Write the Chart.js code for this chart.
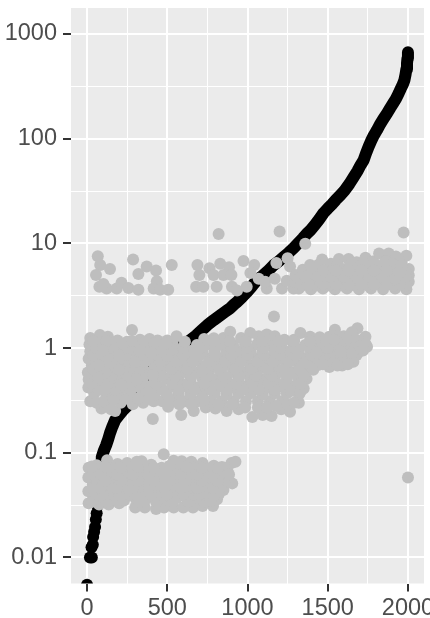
<!DOCTYPE html>
<html>
<head>
<meta charset="utf-8">
<script src="https://cdn.jsdelivr.net/npm/chart.js@4/dist/chart.umd.min.js"></script>
<style>
  html, body { margin: 0; padding: 0; background: #fff; }
  canvas { display: block; }
</style>
</head>
<body>
<canvas id="plot" width="430" height="618"></canvas>
<script>
// axis ticks
const xTicks = [0, 500, 1000, 1500, 2000];
const xMinor = [250, 750, 1250, 1750];
const yTicks = [0.01, 0.1, 1, 10, 100, 1000];
const yMinor = [0.0316, 0.316, 3.16, 31.6, 316];

// black curve, lower separate dots as [rank, value]
const curveDots = [
  [0,.0055],[18,.01],[30,.01],[28,.0125],[36,.0132],[38,.0157],[44,.0175],[50,.0195],[55,.023],[60,.0265],
  [65,.031],[70,.037],[76,.046],[82,.057],[87,.072]
];
// black curve, the solid part
const curveLine = [
  [87,.072],[92,.091],[105,.105],[119,.118],[132,.135],[143,.154],
  [158,.178],[175,.205],[198,.228],[225,.255],[256,.286],[285,.33],[315,.38],[345,.44],[375,.52],[405,.62],
  [436,.74],[475,.83],[518,.92],[560,1],[600,1.08],[642,1.19],[680,1.32],[715,1.48],[750,1.66],[790,1.85],
  [830,2.05],[865,2.25],[892,2.4],[915,2.6],[934,2.75],[965,3.05],[995,3.4],[1025,3.85],[1060,4.5],[1090,4.85],
  [1125,5.4],[1163,6.2],[1195,6.75],[1225,7.4],[1255,8.1],[1287,9],[1315,10],[1345,11.2],[1370,12.4],[1393,13.4],
  [1420,15],[1447,17],[1474,19.5],[1500,21.5],[1525,23.5],[1550,26],[1580,29],[1605,32],[1635,37],[1662,43],
  [1685,49],[1705,56],[1724,62.5],[1738,72],[1755,84],[1770,95],[1788,108],[1807,121],[1825,136],[1845,153],
  [1870,175],[1890,197],[1908,218],[1925,240],[1942,271],[1955,300],[1968,330],[1978,363],[1985,410],[1990,460],
  [1994,524],[1997,585],[2000,671]
];

// grey cloud, lowest band
const lowBand = [
  [10,.033],[75,.032],[135,.032],[200,.033],[300,.03],[360,.03],[430,.029],[480,.03],[540,.03],[600,.03],[660,.03],[720,.031],[785,.031],
  [40,.037],[105,.037],[170,.036],[235,.037],[300,.037],[365,.036],[430,.037],[495,.036],[560,.037],[625,.036],[690,.037],[755,.037],[810,.036],
  [8,.043],[70,.043],[135,.042],[200,.043],[265,.043],[330,.042],[395,.043],[460,.043],[525,.042],[590,.043],[655,.043],[720,.042],[785,.043],[850,.044],
  [35,.05],[100,.05],[165,.049],[230,.05],[295,.05],[360,.049],[425,.05],[490,.05],[555,.049],[620,.05],[685,.05],[750,.05],[815,.049],[880,.053],[905,.051],
  [8,.058],[65,.058],[130,.057],[195,.058],[260,.058],[325,.057],[390,.058],[455,.058],[520,.057],[585,.058],[650,.058],[715,.057],[780,.058],[845,.058],
  [30,.067],[95,.067],[160,.066],[225,.067],[290,.067],[355,.066],[420,.067],[485,.067],[550,.066],[615,.067],[680,.067],[745,.066],[810,.067],[875,.067],
  [10,.072],[60,.076],[125,.085],[190,.078],[250,.08],[310,.082],[340,.083],[400,.077],[478,.097],[540,.084],[590,.083],[650,.082],[720,.08],[790,.075],[840,.073],[900,.08],[925,.082],
  [30,.034],[130,.034],[230,.035],[330,.034],[430,.034],[530,.034],[630,.034],[730,.034],[770,.035],
  [60,.04],[160,.04],[260,.04],[360,.04],[460,.04],[560,.04],[660,.04],[760,.04],[820,.04],
  [35,.046],[135,.046],[235,.046],[335,.046],[435,.046],[535,.046],[635,.046],[735,.046],[835,.047],
  [65,.054],[165,.054],[265,.054],[365,.054],[465,.054],[565,.054],[665,.054],[765,.054],[865,.055],
  [35,.062],[135,.062],[235,.062],[335,.062],[435,.062],[535,.062],[635,.062],[735,.062],[835,.063],
  [65,.071],[165,.071],[265,.072],[365,.072],[465,.072],[565,.072],[665,.072],[765,.071],[855,.072],
  [100,.04],[200,.04],[300,.04],[400,.04],[500,.04],[600,.04],[700,.04],[790,.039],
  [85,.046],[185,.046],[285,.046],[385,.046],[485,.046],[585,.046],[685,.046],[785,.046],
  [115,.054],[215,.054],[315,.054],[415,.054],[515,.054],[615,.054],[715,.054],[815,.054],
  [85,.062],[185,.062],[285,.062],[385,.062],[485,.062],[585,.062],[685,.062],[785,.062],[885,.062],
  [30,.074],[110,.074],[210,.072],[315,.073],[415,.072],[515,.075],[615,.074],[715,.072],[815,.072]
];

// grey cloud, middle band
const midBand = [
  [90,.265],[175,.25],[505,.275],[587,.23],[665,.25],[740,.27],[800,.265],[870,.25],[945,.26],[1030,.22],[1095,.23],[1150,.225],[1210,.26],[1265,.247],
  [20,.31],[130,.29],[210,.3],[285,.29],[350,.3],[415,.31],[470,.31],[540,.31],[610,.31],[690,.31],[770,.31],[840,.31],[915,.31],[990,.31],[1065,.31],[1140,.31],[1215,.31],[1320,.3],
  [45,.37],[120,.36],[195,.37],[270,.36],[345,.37],[420,.36],[495,.37],[570,.37],[645,.36],[720,.37],[795,.37],[870,.36],[945,.37],[1020,.37],[1095,.36],[1170,.37],[1245,.37],[1320,.36],
  [8,.42],[85,.43],[160,.43],[235,.42],[310,.43],[385,.43],[460,.42],[535,.43],[610,.43],[685,.42],[760,.43],[835,.43],[910,.42],[985,.43],[1060,.43],[1135,.42],[1210,.43],[1285,.43],[1350,.41],
  [10,.5],[50,.51],[120,.5],[195,.5],[270,.51],[345,.5],[420,.5],[495,.51],[570,.5],[645,.5],[720,.51],[795,.5],[870,.5],[945,.51],[1020,.5],[1095,.5],[1170,.51],[1245,.5],[1320,.5],[1368,.51],
  [5,.585],[85,.58],[160,.59],[235,.58],[310,.59],[385,.58],[460,.59],[535,.58],[610,.59],[685,.58],[760,.59],[835,.58],[910,.59],[985,.58],[1060,.59],[1135,.58],[1210,.59],[1285,.58],[1360,.59],
  [30,.68],[120,.68],[195,.69],[270,.67],[345,.68],[420,.69],[495,.67],[570,.68],[645,.69],[720,.67],[795,.68],[870,.69],[945,.67],[1020,.68],[1095,.69],[1170,.67],[1245,.68],[1320,.69],[1395,.68],[1440,.69],
  [10,.79],[85,.8],[160,.79],[235,.8],[310,.79],[385,.8],[535,.79],[610,.8],[685,.79],[760,.8],[835,.79],[910,.8],[985,.79],[1060,.8],[1135,.79],[1210,.8],[1285,.79],[1360,.8],[1435,.79],[1510,.66],[1510,.8],[1590,.68],[1590,.8],[1660,.74],[1680,.86],
  [20,.93],[120,.92],[195,.93],[270,.94],[345,.92],[420,.93],[570,.92],[645,.94],[720,.93],[795,.92],[870,.94],[945,.93],[1020,.92],[1095,.94],[1170,.93],[1245,.92],[1320,.94],[1395,.93],[1470,.92],[1545,.94],[1620,.93],[1695,.92],[1745,1.03],
  [15,1.08],[85,1.08],[160,1.09],[235,1.07],[310,1.08],[385,1.09],[460,1.07],[535,1.08],[685,1.07],[760,1.08],[835,1.09],[910,1.07],[985,1.08],[1060,1.09],[1135,1.07],[1210,1.08],[1285,1.09],[1360,1.07],[1435,1.08],[1510,1.09],[1585,1.07],[1660,1.08],[1735,1.1],
  [20,1.25],[80,1.33],[130,1.28],[190,1.18],[250,1.15],[280,1.49],[330,1.2],[390,1.22],[440,1.18],[500,1.18],[558,1.3],[730,1.22],[790,1.24],[850,1.25],[892,1.43],[960,1.25],[1017,1.39],[1070,1.3],[1120,1.35],[1170,1.3],[1230,1.2],[1290,1.2],[1330,1.39],[1390,1.28],[1450,1.27],[1545,1.5],[1510,1.28],[1600,1.3],[1685,1.55],[1735,1.28],[1650,1.42],
  [1165,2],[410,.21],
  [60,.3],[105,.31],[150,.26],[165,.32],[250,.33],[320,.33],[385,.33],[510,.33],[575,.29],[650,.29],[730,.32],[820,.29],[905,.29],[985,.27],[1065,.27],[1120,.27],[1180,.28],[1250,.29],[1290,.3],
  [70,.4],[170,.4],[270,.4],[370,.4],[470,.4],[570,.4],[670,.4],[770,.4],[870,.4],[970,.4],[1070,.4],[1170,.4],[1270,.39],[1330,.38],
  [30,.46],[130,.46],[230,.46],[330,.46],[430,.46],[530,.46],[630,.46],[730,.46],[830,.46],[930,.46],[1030,.46],[1130,.46],[1230,.46],[1330,.46],
  [50,.54],[150,.54],[250,.54],[350,.54],[450,.54],[550,.54],[650,.54],[750,.54],[850,.54],[950,.54],[1050,.54],[1150,.54],[1250,.54],[1350,.55],
  [40,.63],[125,.63],[225,.63],[325,.63],[425,.63],[525,.63],[625,.63],[725,.63],[825,.63],[925,.63],[1025,.63],[1125,.63],[1225,.63],[1325,.63],[1410,.62],
  [60,.74],[160,.74],[260,.74],[360,.74],[460,.74],[560,.74],[660,.74],[760,.74],[860,.74],[960,.74],[1060,.74],[1160,.74],[1260,.74],[1360,.73],[1460,.73],[1550,.72],[1625,.74],
  [40,.86],[140,.86],[240,.86],[340,.86],[440,.86],[500,.84],[600,.86],[700,.86],[800,.86],[900,.86],[1000,.86],[1100,.86],[1200,.86],[1300,.86],[1400,.86],[1480,.82],[1550,.85],[1630,.85],
  [60,1],[160,1],[260,1],[360,1],[470,.97],[530,.97],[600,1.02],[700,1],[800,1],[900,1],[1000,1],[1100,1],[1200,1],[1300,1],[1400,1],[1500,1],[1600,1],[1700,1],
  [40,1.17],[120,1.17],[220,1.1],[280,1.17],[360,1.15],[420,1.12],[490,1.1],[610,1.15],[790,1.16],[890,1.16],[990,1.16],[1090,1.16],[1190,1.16],[1290,1.16],[1390,1.16],[1490,1.18],[1590,1.16],[1690,1.18],[1560,1.3],[1660,1.27],[1620,1.24],
  [1450,.8],[1530,.72],[1600,.78],[1560,1.1],[1650,.9],[1700,1.05],[1470,.7],[1560,.68],[1625,.7],[1430,.9],[1580,.92],[1540,1.2],[1720,.95],
  [110,.4],[210,.45],[310,.5],[410,.55],[115,.58],[200,.62],[300,.74],[400,.9],[120,.8],[200,.85],[330,.95],[100,.95],[75,.68],[70,.52]
];

// grey cloud, top band
const highBand = [
  [67,7.55],[82,6.2],[143,5.7],[56,5],[77,3.85],[122,3.7],[102,4.1],[185,3.7],[215,4.2],[258,3.75],[320,3.6],[287,7],[320,5.1],[372,6],[430,5.5],
  [435,4.35],[415,3.7],[455,3.6],[506,3.6],[528,6.2],[820,12.3],[688,6.2],[763,5.8],[700,5],[680,3.85],[725,3.85],[808,3.85],[830,6.4],[885,5.9],
  [788,5],[850,5],[900,5],[903,3.85],[935,3.55],[995,3.85],[975,6.8],[1042,6.2],[1018,5.2],[1070,4.6],[1120,3.7],[1110,4.3],[1180,6.5],[1170,4.6],
  [1215,3.7],[1287,3.7],[1250,7.2],[1265,6],[1200,13],[1360,9.9],[1973,12.7],[1245,4.4],
  [1320,3.7],[1395,3.65],[1470,3.7],[1545,3.65],[1620,3.7],[1695,3.65],[1770,3.7],[1845,3.65],[1920,3.7],[1990,3.65],
  [1295,4.3],[1357,4.25],[1432,4.3],[1507,4.25],[1582,4.3],[1657,4.25],[1732,4.3],[1807,4.25],[1882,4.3],[1957,4.25],[2005,4.3],
  [1300,5],[1395,4.95],[1470,5],[1545,4.95],[1620,5],[1695,4.95],[1770,5],[1845,4.95],[1920,5],[2005,4.95],
  [1345,5.6],[1432,5.75],[1507,5.8],[1582,5.75],[1657,5.8],[1732,5.75],[1807,5.8],[1882,5.75],[1957,5.8],[2005,5.7],
  [1390,6.2],[1465,7],[1520,6.4],[1570,7.1],[1630,7.1],[1680,6.6],[1735,7.3],[1780,6.7],[1820,8],[1880,8],[1925,7.5],[1990,7.6],[1960,6.6],
  [1340,3.95],[1430,3.95],[1510,3.95],[1590,3.95],[1670,3.95],[1750,3.95],[1830,3.95],[1910,3.95],[1985,3.95],
  [1325,4.6],[1400,4.6],[1480,4.6],[1560,4.6],[1640,4.6],[1720,4.6],[1800,4.6],[1880,4.6],[1960,4.6],
  [1350,5.35],[1430,5.35],[1510,5.35],[1590,5.35],[1670,5.35],[1750,5.35],[1830,5.35],[1910,5.35],[1985,5.35],
  [1440,6.2],[1560,6.3],[1640,6.3],[1720,6.3],[1800,6.3],[1860,6.7],[1900,6.4],[1960,6.2],
  [1380,4.05],[1470,4.1],[1550,4.05],[1630,4.05],[1710,4.05],[1790,4.05],[1870,4.05],[1950,4.05],
  [1360,4.8],[1440,4.8],[1520,4.8],[1600,4.8],[1680,4.8],[1760,4.8],[1840,4.8],[1920,4.6],[1985,4.8],
  [1470,5.5],[1550,5.5],[1630,5.5],[1710,5.5],[1790,5.5],[1870,5.5],[1950,5.3],[1400,5.9]
];

// one off point far right
const loneBand = [[2000,.058]];

const GREY = '#BEBEBE';
const toXY = (pts) => pts.map((p) => ({ x: p[0], y: p[1] }));
const greyPoints = toXY(lowBand.concat(midBand, highBand, loneBand));

// ggplot style panel behind everything
const panelBackground = {
  id: 'panelBackground',
  beforeDraw(chart) {
    const a = chart.chartArea;
    chart.ctx.save();
    chart.ctx.fillStyle = '#EBEBEB';
    chart.ctx.fillRect(a.left, a.top, a.right - a.left, a.bottom - a.top);
    chart.ctx.restore();
  },
};

const tickFont = { family: '"Liberation Sans", Arial, sans-serif', size: 23.5 };

new Chart(document.getElementById('plot'), {
  type: 'scatter',
  data: {
    datasets: [
      { data: greyPoints, backgroundColor: GREY, pointRadius: 6, pointBorderWidth: 0, order: 0 },
      { data: toXY(curveDots), backgroundColor: '#000', pointRadius: 6, pointBorderWidth: 0, order: 1 },
      { data: toXY(curveLine), showLine: true, borderColor: '#000', borderWidth: 12, borderCapStyle: 'round', borderJoinStyle: 'round', pointRadius: 0, order: 2 },
    ],
  },
  options: {
    responsive: false,
    animation: false,
    devicePixelRatio: 1,
    layout: { padding: { top: 8, right: 6, left: 0, bottom: 0 } },
    plugins: { legend: { display: false }, tooltip: { enabled: false } },
    scales: {
      x: {
        type: 'linear',
        min: -100,
        max: 2100,
        border: { display: false },
        afterBuildTicks: (s) => { s.ticks = xTicks.concat(xMinor).sort((a, b) => a - b).map((v) => ({ value: v })); },
        afterFit: (s) => { s.height = 34.5; s.paddingLeft = 0; s.paddingRight = 0; },
        grid: {
          color: '#fff',
          lineWidth: (c) => (xTicks.includes(c.tick.value) ? 2 : 1),
          tickColor: (c) => (xTicks.includes(c.tick.value) ? '#333' : 'rgba(0,0,0,0)'),
          tickWidth: 2,
          tickLength: 8,
        },
        ticks: {
          autoSkip: false,
          maxRotation: 0,
          padding: 3,
          color: '#4D4D4D',
          font: tickFont,
          callback: (v) => (xTicks.includes(v) ? String(v) : ''),
        },
      },
      y: {
        type: 'logarithmic',
        min: 0.00564,
        max: 1771,
        border: { display: false },
        afterBuildTicks: (s) => { s.ticks = yTicks.concat(yMinor).sort((a, b) => a - b).map((v) => ({ value: v })); },
        afterFit: (s) => { s.width = 71; s.paddingTop = 0; s.paddingBottom = 0; },
        grid: {
          color: '#fff',
          lineWidth: (c) => (yTicks.includes(c.tick.value) ? 2 : 1),
          tickColor: (c) => (yTicks.includes(c.tick.value) ? '#333' : 'rgba(0,0,0,0)'),
          tickWidth: 2,
          tickLength: 8,
        },
        ticks: {
          autoSkip: false,
          padding: 6,
          color: '#4D4D4D',
          font: tickFont,
          callback: (v) => (yTicks.includes(v) ? String(v) : ''),
        },
      },
    },
  },
  plugins: [panelBackground],
});
</script>
</body>
</html>
